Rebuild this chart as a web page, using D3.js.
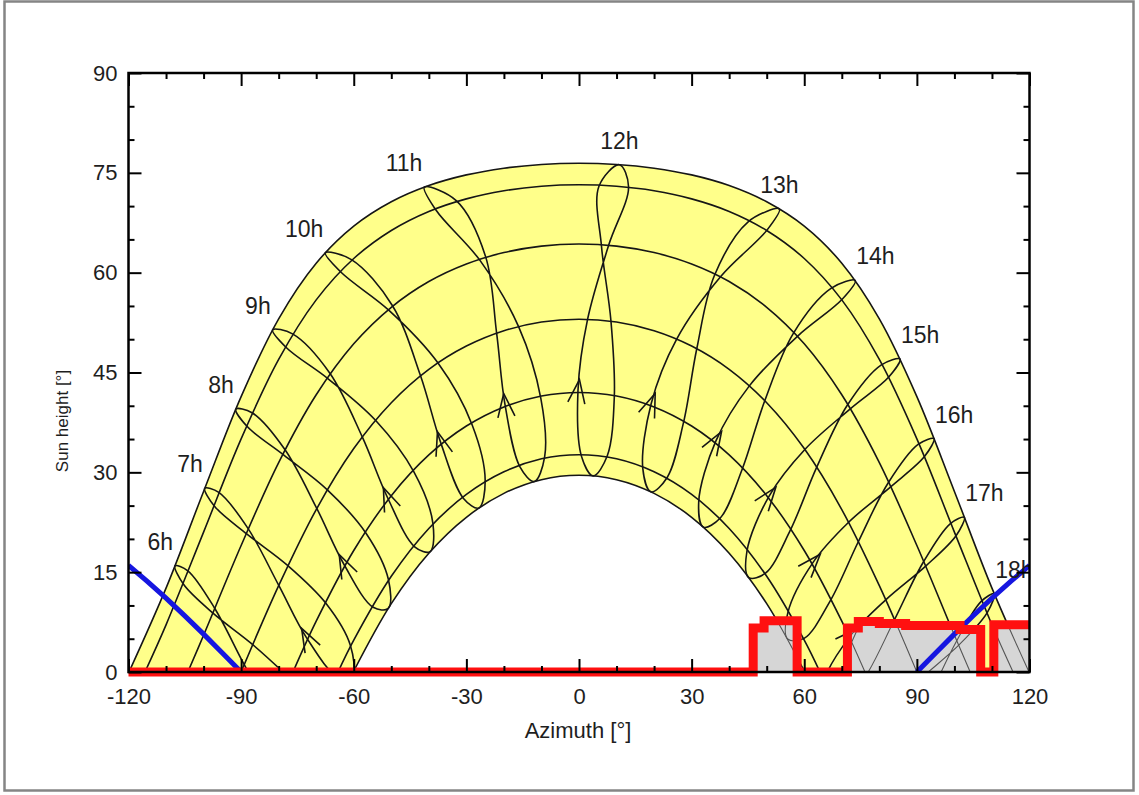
<!DOCTYPE html>
<html>
<head>
<meta charset="utf-8">
<title>Sun paths</title>
<script src="https://cdn.jsdelivr.net/npm/d3@7/dist/d3.min.js"></script>
<style>
  body { margin: 0; background: #fff; }
  svg text { font-family: "Liberation Sans", Arial, sans-serif; fill: #1e1e1e; }
</style>
</head>
<body>
<svg id="chart" width="1139" height="795"></svg>
<script>
// hours of the hour lines
const hours = [6, 7, 8, 9, 10, 11, 12, 13, 14, 15, 16, 17, 18];

// sun position [azimuth, height] for each hour above, one list per date
const jun22 = [[-107.62,15.95],[-99.69,27.59],[-91.40,39.50],[-81.59,51.43],[-67.57,62.99],[-41.20,72.85],[10.76,76.22],[53.38,69.58],[73.57,58.83],[85.51,47.03],[94.56,35.07],[102.62,23.24],[110.60,11.77]];
const may22 = [[-104.20,15.21],[-95.95,26.99],[-87.10,38.96],[-76.31,50.80],[-60.62,61.96],[-32.62,70.78],[13.20,72.92],[50.13,66.43],[70.10,56.00],[82.57,44.35],[92.07,32.41],[100.48,20.51],[108.74,8.93]];
const jul23 = [[-105.30,13.14],[-97.04,24.88],[-88.31,36.84],[-77.92,48.72],[-63.31,60.02],[-38.06,69.37],[5.29,72.94],[45.06,67.64],[67.12,57.64],[80.45,46.12],[90.32,34.20],[98.86,22.27],[107.13,10.61]];
const apr20 = [[-97.09,9.62],[-88.18,21.58],[-78.39,33.46],[-66.36,44.88],[-49.72,55.07],[-24.88,62.41],[7.96,64.22],[37.81,59.46],[58.33,50.51],[72.41,39.61],[83.17,27.90],[92.42,15.95],[101.22,4.06]];
const aug23 = [[-97.34,8.77],[-88.44,20.72],[-78.70,32.61],[-66.83,44.05],[-50.54,54.30],[-26.33,61.81],[5.99,63.98],[36.07,59.57],[57.06,50.85],[71.42,40.05],[82.34,28.40],[91.66,16.45],[100.48,4.54]];
const mar20 = [[-89.17,1.10],[-79.97,13.01],[-69.85,24.57],[-57.73,35.32],[-42.21,44.51],[-21.94,50.91],[2.28,52.98],[26.02,50.02],[45.38,42.99],[60.16,33.44],[71.82,22.50],[81.70,10.84],[90.83,-1.10]];
const sep23 = [[-86.90,4.11],[-77.55,15.97],[-67.04,27.37],[-54.21,37.82],[-37.60,46.46],[-16.09,51.89],[8.52,52.69],[31.37,48.57],[49.48,40.76],[63.33,30.78],[74.43,19.61],[84.03,7.85],[93.10,-4.11]];
const feb21 = [[-81.54,-6.58],[-72.51,5.09],[-62.59,16.15],[-50.98,26.18],[-36.86,34.50],[-19.72,40.20],[-0.27,42.29],[19.22,40.31],[36.44,34.69],[50.64,26.43],[62.31,16.44],[72.26,5.39],[81.30,-6.26]];
const oct23 = [[-76.67,-1.13],[-67.32,10.25],[-56.69,20.82],[-43.98,30.06],[-28.48,37.16],[-10.18,41.15],[9.40,41.23],[27.80,37.39],[43.42,30.39],[56.23,21.23],[66.92,10.69],[76.31,-0.67],null];
const jan19 = [null,[-64.37,-0.61],[-54.83,9.72],[-43.77,18.81],[-30.77,26.08],[-15.73,30.82],[0.67,32.40],[17.00,30.55],[31.89,25.58],[44.73,18.14],[55.64,8.93],[65.09,-1.48],null];
const nov22 = [null,[-60.91,4.01],[-50.78,13.93],[-38.93,22.38],[-24.99,28.74],[-9.16,32.27],[7.51,32.45],[23.49,29.23],[37.63,23.13],[49.68,14.85],[59.96,5.05],[68.99,-5.75],null];
const dec22 = [null,[-60.41,-0.32],[-50.80,9.56],[-39.66,18.08],[-26.67,24.64],[-11.92,28.61],[3.79,29.47],[19.19,27.07],[33.15,21.77],[45.23,14.19],[55.58,4.96],[64.61,-5.43],null];

// date curves [azimuth, height]
const curveJun = [[-119.87,0],[-110,12.60],[-100,27.13],[-90,41.38],[-80,53.07],[-70,61.42],[-60,66.99],[-50,70.65],[-40,73.09],[-30,74.69],[-20,75.70],[-10,76.26],[0,76.44],[10,76.26],[20,75.70],[30,74.69],[40,73.09],[50,70.65],[60,66.99],[70,61.42],[80,53.07],[90,41.38],[100,27.13],[110,12.60],[119.87,0]];
const curveMayJul = [[-115.62,0],[-110,7.09],[-100,21.02],[-90,35.02],[-80,46.96],[-70,55.91],[-60,62.13],[-50,66.34],[-40,69.20],[-30,71.09],[-20,72.31],[-10,72.98],[0,73.20],[10,72.98],[20,72.31],[30,71.09],[40,69.20],[50,66.34],[60,62.13],[70,55.91],[80,46.96],[90,35.02],[100,21.02],[110,7.09],[115.62,0]];
const curveAprAug = [[-104.20,0],[-100,5.52],[-90,19.00],[-80,31.46],[-70,41.65],[-60,49.31],[-50,54.80],[-40,58.67],[-30,61.31],[-20,63.02],[-10,63.99],[0,64.30],[10,63.99],[20,63.02],[30,61.31],[40,58.67],[50,54.80],[60,49.31],[70,41.65],[80,31.46],[90,19.00],[100,5.52],[104.20,0]];
const curveMarSep = [[-90,0],[-80,12.97],[-70,24.41],[-60,33.57],[-50,40.46],[-40,45.47],[-30,48.97],[-20,51.27],[-10,52.58],[0,53.00],[10,52.58],[20,51.27],[30,48.97],[40,45.47],[50,40.46],[60,33.57],[70,24.41],[80,12.97],[90,0]];
const curveFebOct = [[-76.18,0],[-70,7.63],[-60,18.25],[-50,26.50],[-40,32.62],[-30,36.96],[-20,39.83],[-10,41.47],[0,42.00],[10,41.47],[20,39.83],[30,36.96],[40,32.62],[50,26.50],[60,18.25],[70,7.63],[76.18,0]];
const curveJanNov = [[-64.19,0],[-60,4.79],[-50,14.38],[-40,21.57],[-30,26.68],[-20,30.08],[-10,32.03],[0,32.65],[10,32.03],[20,30.08],[30,26.68],[40,21.57],[50,14.38],[60,4.79],[64.19,0]];
const curveDec = [[-60.13,0],[-50,10.27],[-40,17.85],[-30,23.25],[-20,26.84],[-10,28.90],[0,29.56],[10,28.90],[20,26.84],[30,23.25],[40,17.85],[50,10.27],[60.13,0]];

// far horizon profile, step levels starting at each azimuth
const horizonAz = [-120, 46.4, 49.3, 58.1, 71.5, 74.4, 80.0, 87.0, 101.5, 107.0, 110.5, 120];
const horizonH = [0, 6.6, 7.7, 0, 6.6, 7.6, 7.3, 7.0, 6.4, 0, 7.1, 7.1];

// plane orientation limits
const planeLeft = [[-120,16.0],[-115,13.62],[-110,11.10],[-105,8.44],[-100,5.69],[-95,2.86],[-90,0]];
const planeRight = [[90,0],[95,2.86],[100,5.69],[105,8.44],[110,11.10],[115,13.62],[120,16.0]];

// axis ticks
const xMajor = [-120, -90, -60, -30, 0, 30, 60, 90, 120];
const xMinor = [-110, -100, -80, -70, -50, -40, -20, -10, 10, 20, 40, 50, 70, 80, 100, 110];
const yMajor = [0, 15, 30, 45, 60, 75, 90];
const yMinor = [5, 10, 20, 25, 35, 40, 50, 55, 65, 70, 80, 85];

const svg = d3.select('#chart');
const x = d3.scaleLinear().domain([-120, 120]).range([128.5, 1029.5]);
const y = d3.scaleLinear().domain([0, 90]).range([672, 73]);

const dateCurves = [curveJun, curveMayJul, curveAprAug, curveMarSep, curveFebOct, curveJanNov, curveDec];
// dates in the order of the year, starting in February
const dateRows = [feb21, mar20, apr20, may22, jun22, jul23, aug23, sep23, oct23, nov22, dec22, jan19];

// outer frame of the picture
svg.append('rect')
    .attr('x', 4.5).attr('y', 1.5)
    .attr('width', 1129).attr('height', 789)
    .attr('fill', 'none')
    .attr('stroke', '#858585')
    .attr('stroke-width', 2.5);

const defs = svg.append('defs');
defs.append('clipPath').attr('id', 'plotClip')
    .append('rect')
    .attr('x', x(-120)).attr('y', y(90))
    .attr('width', x(120) - x(-120)).attr('height', y(0) - y(90));

const horizonArea = d3.area()
    .x((d, i) => x(horizonAz[i]))
    .y0(y(0))
    .y1(d => y(d))
    .curve(d3.curveStepAfter);

defs.append('clipPath').attr('id', 'horizonClip')
    .append('path')
    .attr('d', horizonArea(horizonH));

const curveLine = d3.line().x(d => x(d[0])).y(d => y(d[1])).curve(d3.curveCatmullRom);
const curveArea = d3.area().x(d => x(d[0])).y0(y(0)).y1(d => y(d[1])).curve(d3.curveCatmullRom);

const plot = svg.append('g').attr('clip-path', 'url(#plotClip)');

// sun area between the June and December curves
plot.append('path').attr('d', curveArea(curveJun)).attr('fill', '#ffff8a');
plot.append('path').attr('d', curveArea(curveDec)).attr('fill', '#ffffff');

function drawLines(g, color, width) {
    dateCurves.forEach(c => {
        g.append('path')
            .attr('d', curveLine(c))
            .attr('fill', 'none')
            .attr('stroke', color)
            .attr('stroke-width', width);
    });

    hours.forEach((hr, i) => {
        const pts = dateRows.map(r => r[i]);
        const open = pts.some(p => p === null);
        const gen = d3.line()
            .x(d => x(d[0]))
            .y(d => y(d[1]))
            .curve(open ? d3.curveCatmullRom : d3.curveCatmullRomClosed);
        g.append('path')
            .attr('d', gen(pts.filter(p => p !== null)))
            .attr('fill', 'none')
            .attr('stroke', color)
            .attr('stroke-width', width);

        // direction arrow on the first half of the year
        const a = feb21[i], b = mar20[i];
        if (a[1] > 0) {
            const ax = x(a[0]), ay = y(a[1]);
            const vx = x(b[0]) - ax, vy = y(b[1]) - ay;
            const len = Math.hypot(vx, vy);
            const ux = vx / len, uy = vy / len;
            const tx = ax + ux * 11, ty = ay + uy * 11;
            const ang = 20 * Math.PI / 180, bl = 25;
            const b1 = [tx - bl * (ux * Math.cos(ang) - uy * Math.sin(ang)), ty - bl * (ux * Math.sin(ang) + uy * Math.cos(ang))];
            const b2 = [tx - bl * (ux * Math.cos(-ang) - uy * Math.sin(-ang)), ty - bl * (ux * Math.sin(-ang) + uy * Math.cos(-ang))];
            g.append('path')
                .attr('d', `M${b1[0]},${b1[1]}L${tx},${ty}L${b2[0]},${b2[1]}`)
                .attr('fill', 'none')
                .attr('stroke', color)
                .attr('stroke-width', width);
        }
    });
}

drawLines(plot.append('g'), '#161616', 1.6);

// shaded part under the far horizon
plot.append('path').attr('d', horizonArea(horizonH)).attr('fill', '#d6d6d6');
drawLines(plot.append('g').attr('clip-path', 'url(#horizonClip)'), '#555555', 1.1);

// horizon line
svg.append('path')
    .attr('d', d3.line().x((d, i) => x(horizonAz[i])).y(d => y(d)).curve(d3.curveStepAfter)(horizonH))
    .attr('fill', 'none')
    .attr('stroke', '#ff1010')
    .attr('stroke-width', 9);

// plane orientation lines
const planeLine = d3.line().x(d => x(d[0])).y(d => y(d[1]));
[planeLeft, planeRight].forEach(p => {
    plot.append('path')
        .attr('d', planeLine(p))
        .attr('fill', 'none')
        .attr('stroke', '#1616e0')
        .attr('stroke-width', 5);
});

// hour labels at the June curve
const labels = svg.append('g').attr('clip-path', 'url(#plotClip)');
hours.forEach((hr, i) => {
    const p = jun22[i];
    const anchor = hr < 12 ? 'end' : (hr <= 13 ? 'middle' : 'start');
    const dx = hr < 12 ? -2 : (hr <= 13 ? 0 : 1);
    labels.append('text')
        .attr('x', x(p[0]) + dx)
        .attr('y', y(p[1]) - 16)
        .attr('text-anchor', anchor)
        .style('font-size', '23px')
        .text(hr + 'h');
});

// axes with inner ticks
function styleAxis(g) {
    g.select('.domain').remove();
    g.selectAll('line').attr('stroke', '#000').attr('stroke-width', 2);
    g.selectAll('text').style('font-size', '22px');
}

svg.append('g').attr('transform', `translate(0,${y(0)})`)
    .call(d3.axisBottom(x).tickValues(xMajor).tickSize(-13).tickPadding(16).tickFormat(d => d))
    .call(styleAxis);
svg.append('g').attr('transform', `translate(0,${y(0)})`)
    .call(d3.axisBottom(x).tickValues(xMinor).tickSize(-6).tickFormat(''))
    .call(styleAxis);
svg.append('g').attr('transform', `translate(0,${y(90)})`)
    .call(d3.axisTop(x).tickValues(xMajor).tickSize(-13).tickFormat(''))
    .call(styleAxis);
svg.append('g').attr('transform', `translate(0,${y(90)})`)
    .call(d3.axisTop(x).tickValues(xMinor).tickSize(-6).tickFormat(''))
    .call(styleAxis);
svg.append('g').attr('transform', `translate(${x(-120)},0)`)
    .call(d3.axisLeft(y).tickValues(yMajor).tickSize(-13).tickPadding(11).tickFormat(d => d))
    .call(styleAxis);
svg.append('g').attr('transform', `translate(${x(-120)},0)`)
    .call(d3.axisLeft(y).tickValues(yMinor).tickSize(-6).tickFormat(''))
    .call(styleAxis);
svg.append('g').attr('transform', `translate(${x(120)},0)`)
    .call(d3.axisRight(y).tickValues(yMajor).tickSize(-13).tickFormat(''))
    .call(styleAxis);
svg.append('g').attr('transform', `translate(${x(120)},0)`)
    .call(d3.axisRight(y).tickValues(yMinor).tickSize(-6).tickFormat(''))
    .call(styleAxis);

svg.append('rect')
    .attr('x', x(-120)).attr('y', y(90))
    .attr('width', x(120) - x(-120)).attr('height', y(0) - y(90))
    .attr('fill', 'none')
    .attr('stroke', '#000')
    .attr('stroke-width', 2.5);

// axis titles
svg.append('text')
    .attr('x', 578).attr('y', 738)
    .attr('text-anchor', 'middle')
    .style('font-size', '22px')
    .text('Azimuth [°]');

svg.append('text')
    .attr('transform', 'translate(68,421) rotate(-90)')
    .attr('text-anchor', 'middle')
    .style('font-size', '17px')
    .text('Sun height [°]');
</script>
</body>
</html>
